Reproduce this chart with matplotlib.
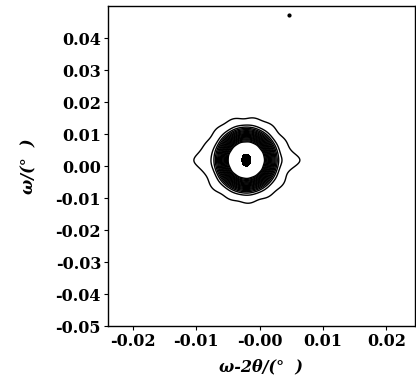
import numpy as np
import matplotlib.pyplot as plt

# peak parameters (degrees)
peak_x = -0.0021          # omega-2theta position of the peak
peak_y = 0.0019           # omega position of the peak
core_w = [0.0042, 0.0086] # half widths of the flat-top core (x, y)
wing_w = [0.0050, 0.0096] # half widths of the diffuse wing (x, y)
streak_w = [0.0085, 0.0026]
spike_w = [0.0007, 0.0019]
core_amp = 1.0
wing_amp = 0.06
streak_amp = 0.014
spike_amp = 0.5

levels = [0.009, 0.03, 0.07, 0.12, 0.18, 0.25, 0.32, 0.4, 0.48, 0.55,
          0.62, 0.69, 0.75, 0.8, 0.85, 0.89, 0.93, 0.96]
top_levels = [1.25, 10]

speck_x = [0.0046]
speck_y = [0.0472]

xticks = [-0.02, -0.01, 0.0, 0.01, 0.02]
xticklabels = ['-0.02', '-0.01', '-0.00', '0.01', '0.02']
yticks = [-0.05, -0.04, -0.03, -0.02, -0.01, 0.0, 0.01, 0.02, 0.03, 0.04]

xlim = (-0.0239, 0.0245)
ylim = (-0.05, 0.05)

# intensity grid
x = np.linspace(xlim[0], xlim[1], 700)
y = np.linspace(ylim[0], ylim[1], 900)
X, Y = np.meshgrid(x, y)
dx = X - peak_x
dy = Y - peak_y
r2 = (dx / core_w[0])**2 + (dy / core_w[1])**2
theta = np.arctan2(dy / core_w[1], dx / core_w[0])
core = core_amp * np.exp(-r2**3)
ripple = 1 + 0.05 * np.cos(13 * theta + 0.7) + 0.04 * np.sin(7 * theta)
wing = wing_amp * np.exp(-((dx / wing_w[0])**2 + (dy / wing_w[1])**2)) * ripple
streak = streak_amp * np.exp(-((dx / streak_w[0])**2 + (dy / streak_w[1])**2)) * ripple
spike = spike_amp * np.exp(-((dx / spike_w[0])**2 + (dy / spike_w[1])**2))
Z = core + wing + streak + spike

fig = plt.figure(figsize=(4.16, 3.85), dpi=100)
ax = fig.add_axes([0.2596, 0.153, 0.738, 0.831])

ax.contour(X, Y, Z, levels=levels, colors='k', linewidths=1.0)
ax.contourf(X, Y, Z, levels=top_levels, colors='k')
ax.plot(speck_x, speck_y, 'o', color='k', ms=2)

ax.set_xlim(xlim)
ax.set_ylim(ylim)
ax.set_xticks(xticks)
ax.set_xticklabels(xticklabels)
ax.set_yticks(yticks)
ax.set_yticklabels(['%.2f' % v for v in yticks])

for lab in ax.get_xticklabels() + ax.get_yticklabels():
    lab.set_fontfamily('DejaVu Serif')
    lab.set_fontweight('bold')
    lab.set_fontsize(11.5)

ax.tick_params(direction='out', length=3, width=0.8, pad=2, color='k')
for s in ax.spines.values():
    s.set_linewidth(1.0)
    s.set_color('k')

ax.set_xlabel('ω-2θ/(°  )', family='DejaVu Serif', weight='bold', style='italic', size=11.5, labelpad=6)
ax.set_ylabel('ω/(°  )', family='DejaVu Serif', weight='bold', style='italic', size=11.5, labelpad=13)

plt.savefig('out.png', dpi=100)
